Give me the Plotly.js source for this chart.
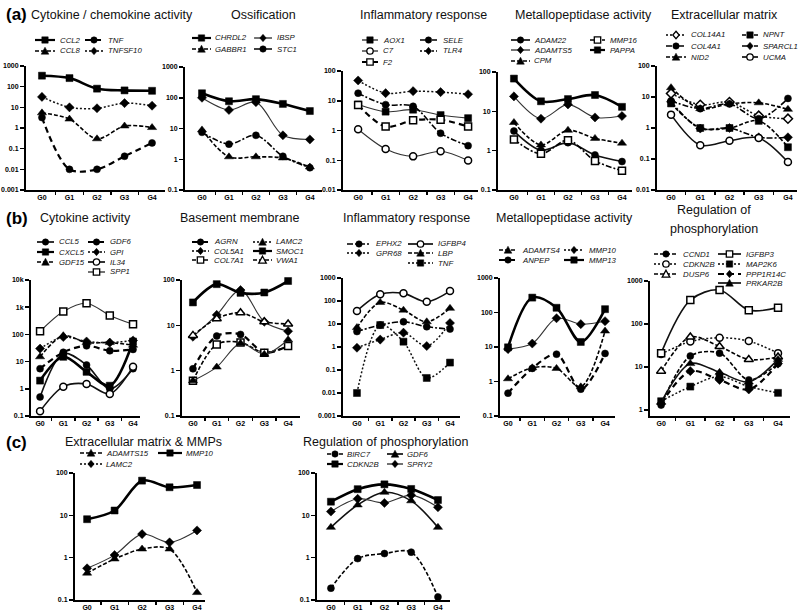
<!DOCTYPE html>
<html><head><meta charset="utf-8">
<script src="https://cdn.plot.ly/plotly-3.0.1.min.js"></script>
<style>html,body{margin:0;padding:0;background:#fff}#chart{width:798px;height:616px}</style>
</head><body><div id="chart"></div>
<script>
// ---------- categories ----------
const stages = ['G0','G1','G2','G3','G4'];

// ---------- tick labels ----------
const ticksA1 = ['0.001','0.01','0.1','1','10','100','1000'];
const ticksA2 = ['0.1','1','10','100','1000'];
const ticksA3 = ['0.01','0.1','1','10','100'];
const ticksA4 = ['0.1','1','10','100'];
const ticksA5 = ['0.01','0.1','1','10','100'];
const ticksB1 = ['0.1','1','10','100','1k','10k'];
const ticksB2 = ['0.1','1','10','100'];
const ticksB3 = ['0.001','0.01','0.1','1','10','100','1000'];
const ticksB4 = ['0.1','1','10','100','1000'];
const ticksB5 = ['1','10','100','1000'];
const ticksC1 = ['0.1','1','10','100'];
const ticksC2 = ['0.1','1','10','100'];

// ---------- (a) Cytokine / chemokine activity ----------
const a1_CCL2    = [340, 260, 80, 66, 63];
const a1_CCL8    = [5.4, 2.7, 0.3, 1.25, 1.05];
const a1_TNF     = [3.2, 0.01, 0.01, 0.043, 0.19];
const a1_TNFSF10 = [32, 10, 9, 16, 12];
// ---------- (a) Ossification ----------
const a2_CHRDL2 = [140, 77, 90, 63, 37];
const a2_GABBR1 = [9, 1.2, 1.2, 1.1, 0.56];
const a2_IBSP   = [100, 40, 72, 6, 4.4];
const a2_STC1   = [7.5, 3.1, 6, 1.25, 0.53];
// ---------- (a) Inflammatory response ----------
const a3_AOX1 = [7.5, 4.3, 5, 3.3, 2.6];
const a3_C7   = [1.1, 0.24, 0.135, 0.2, 0.098];
const a3_F2   = [7.2, 1.35, 2.2, 2.3, 1.35];
const a3_SELE = [18, 7.4, 6.5, 0.81, 0.31];
const a3_TLR4 = [48, 18, 21, 19.5, 16.6];
// ---------- (a) Metallopeptidase activity ----------
const a4_ADAM22  = [3.15, 1.03, 1.6, 0.78, 0.53];
const a4_ADAMTS5 = [24, 6.5, 15, 7, 7.6];
const a4_CPM     = [5.2, 1.4, 3.3, 2.05, 1.55];
const a4_MMP16   = [1.93, 0.83, 1.85, 0.55, 0.31];
const a4_PAPPA   = [68, 18, 20.5, 26, 13];
// ---------- (a) Extracellular matrix ----------
const a5_COL14A1 = [13, 5.6, 6.9, 2.5, 2];
const a5_COL4A1  = [7.5, 4.2, 6, 2, 9];
const a5_NID2    = [20, 4.2, 6, 6.5, 4];
const a5_NPNT    = [6.2, 1.0, 1.0, 1.7, 0.24];
const a5_SPARCL1 = [7, 0.96, 1.0, 0.5, 0.5];
const a5_UCMA    = [2.7, 0.28, 0.39, 0.48, 0.08];
// ---------- (b) Cytokine activity ----------
const b1_CCL5  = [0.5, 20, 7.5, 1.0, 5.5];
const b1_CXCL5 = [2, 15, 4.2, 1.3, 55];
const b1_GDF15 = [15, 90, 50, 50, 40];
const b1_GDF6  = [5.5, 22, 38, 25, 28];
const b1_GPI   = [30, 80, 55, 50, 60];
const b1_IL34  = [0.15, 1.2, 1.5, 0.65, 6.5];
const b1_SPP1  = [130, 700, 1400, 500, 235];
// ---------- (b) Basement membrane ----------
const b2_AGRN   = [1.1, 5.8, 6.3, 2.5, 3.5];
const b2_COL5A1 = [5.6, 17, 60, 12, 7.4];
const b2_COL7A1 = [0.6, 3.8, 4.2, 2.5, 3.5];
const b2_LAMC2  = [0.6, 1.2, 4.0, 2.3, 4.8];
const b2_SMOC1  = [32, 81, 52, 53, 95];
const b2_VWA1   = [6, 14, 19, 12, 10.7];
// ---------- (b) Inflammatory response ----------
const b3_EPHX2  = [4.7, 9, 12.5, 7.6, 6];
const b3_GPR68  = [0.93, 2.1, 4.2, 1.1, 11];
const b3_IGFBP4 = [37, 195, 215, 93, 270];
const b3_LBP    = [7, 87, 40, 12.5, 48];
const b3_TNF    = [0.01, 9, 1.7, 0.045, 0.21];
// ---------- (b) Metallopeptidase activity ----------
const b4_ADAMTS4 = [1.2, 2.5, 2.4, 0.7, 29];
const b4_ANPEP   = [0.46, 2.4, 6.2, 0.6, 6.5];
const b4_MMP10   = [8.7, 12.6, 68, 46, 56];
const b4_MMP13   = [9.8, 270, 137, 14, 125];
// ---------- (b) Regulation of phosphorylation ----------
const b5_CCND1    = [1.3, 18, 21, 5, 12];
const b5_CDKN2B   = [20, 39, 48, 40, 21];
const b5_DUSP6    = [8, 50, 30, 15, 17];
const b5_IGFBP3   = [21, 360, 620, 210, 240];
const b5_MAP2K6   = [1.6, 3.5, 6, 3.5, 2.5];
const b5_PPP1R14C = [1.4, 8, 5, 3, 12];
const b5_PRKAR2B  = [1.5, 12, 7.5, 4.5, 15];
// ---------- (c) Extracellular matrix & MMPs ----------
const c1_ADAMTS15 = [0.43, 0.93, 1.6, 1.6, 0.15];
const c1_LAMC2    = [0.56, 1.15, 3.6, 2.3, 4.4];
const c1_MMP10    = [8.1, 13, 66, 46, 52];
// ---------- (c) Regulation of phosphorylation ----------
const c2_BIRC7  = [0.19, 0.95, 1.25, 1.35, 0.118];
const c2_CDKN2B = [21, 41.5, 54, 42, 23];
const c2_GDF6   = [5.2, 17.6, 35, 22, 5.2];
const c2_SPRY2  = [12.3, 24.6, 19.6, 30, 15.5];

// ---------- styles ----------
const W = 798, H = 616;
const FONT = '"Liberation Sans", Arial, sans-serif';
const LS = {
  thick:  {width: 2.6, dash: 'solid', color: '#000'},
  solid:  {width: 1.6, dash: 'solid', color: '#111'},
  thin:   {width: 1.1, dash: 'solid', color: '#333'},
  dash:   {width: 1.6, dash: '4px,2px', color: '#000'},
  hdash:  {width: 2.2, dash: '6px,4px', color: '#000'},
  dot:    {width: 1.5, dash: '2px,2px', color: '#111'},
  dashdot:{width: 1.6, dash: '6px,2px,2px,2px', color: '#000'}
};
const MK = {sq: 'square', ci: 'circle', tri: 'triangle-up', dia: 'diamond'};

function S(name, y, ls, m, open){ return {name, y, ls, m, open: !!open}; }

const panels = [
  {title:['Cytokine / chemokine activity'], tx:29, ty:15, tanchor:'left', ticks:ticksA1, lo:-3, hi:3,
   box:[26,165,66,190], xr:[-0.58,4.47],
   series:[S('CCL2',a1_CCL2,'thick','sq'),S('CCL8',a1_CCL8,'dash','tri'),S('TNF',a1_TNF,'hdash','ci'),S('TNFSF10',a1_TNFSF10,'dot','dia')],
   leg:{cols:[[35,55,58],[85,103,106]], rows:[40,51], items:[['CCL2','CCL8'],['TNF','TNFSF10']]}},
  {title:['Ossification'], tx:263, ty:15, ticks:ticksA2, lo:-1, hi:3,
   box:[185,322,67,190], xr:[-0.63,4.45],
   series:[S('CHRDL2',a2_CHRDL2,'thick','sq'),S('GABBR1',a2_GABBR1,'dash','tri'),S('IBSP',a2_IBSP,'thin','dia'),S('STC1',a2_STC1,'dashdot','ci')],
   leg:{cols:[[192,211,213],[254,272,275]], rows:[38,49], items:[['CHRDL2','GABBR1'],['IBSP','STC1']]}},
  {title:['Inflammatory response'], tx:423, ty:15, ticks:ticksA3, lo:-2, hi:2,
   box:[343,478,71,190], xr:[-0.55,4.36],
   series:[S('AOX1',a3_AOX1,'thin','sq'),S('C7',a3_C7,'thin','ci',1),S('F2',a3_F2,'hdash','sq',1),S('SELE',a3_SELE,'dashdot','ci'),S('TLR4',a3_TLR4,'dot','dia')],
   leg:{cols:[[362,378,381],[420,437,441]], rows:[40,51,62], items:[['AOX1','C7','F2'],['SELE','TLR4']]}},
  {title:['Metallopeptidase activity'], tx:583, ty:15, ticks:ticksA4, lo:-1, hi:2,
   box:[498,632,72,190], xr:[-0.59,4.37],
   series:[S('ADAM22',a4_ADAM22,'solid','ci'),S('ADAMTS5',a4_ADAMTS5,'thin','dia'),S('CPM',a4_CPM,'dash','tri'),S('MMP16',a4_MMP16,'dashdot','sq',1),S('PAPPA',a4_PAPPA,'thick','sq')],
   leg:{cols:[[511,530,532],[590,605,608]], rows:[40,50,61], items:[['ADAM22','ADAMTS5','CPM'],['MMP16','PAPPA']]}},
  {title:['Extracellular matrix'], tx:724, ty:15, ticks:ticksA5, lo:-2, hi:2,
   box:[657,797,66,190], xr:[-0.48,4.31],
   series:[S('COL14A1',a5_COL14A1,'dot','dia',1),S('COL4A1',a5_COL4A1,'dashdot','ci'),S('NID2',a5_NID2,'dash','tri'),S('NPNT',a5_NPNT,'dash','sq'),S('SPARCL1',a5_SPARCL1,'dashdot','dia'),S('UCMA',a5_UCMA,'solid','ci',1)],
   leg:{cols:[[666,686,689],[742,758,761]], rows:[35,46,57], items:[['COL14A1','COL4A1','NID2'],['NPNT','SPARCL1','UCMA']]}},
  {title:['Cytokine activity'], tx:85, ty:218, ticks:ticksB1, lo:-1, hi:4,
   box:[31,140,280,416], xr:[-0.39,4.3],
   series:[S('CCL5',b1_CCL5,'solid','ci'),S('CXCL5',b1_CXCL5,'thick','sq'),S('GDF15',b1_GDF15,'dash','tri'),S('GDF6',b1_GDF6,'hdash','ci'),S('GPI',b1_GPI,'dot','dia'),S('IL34',b1_IL34,'solid','ci',1),S('SPP1',b1_SPP1,'thin','sq',1)],
   leg:{cols:[[37,54,57],[88,105,108]], rows:[242,252,262,272], items:[['CCL5','CXCL5','GDF15'],['GDF6','GPI','IL34','SPP1']]}},
  {title:['Basement membrane'], tx:240, ty:218, ticks:ticksB2, lo:-1, hi:2,
   box:[182,300,280,416], xr:[-0.46,4.5],
   series:[S('AGRN',b2_AGRN,'hdash','ci'),S('COL5A1',b2_COL5A1,'thin','dia'),S('COL7A1',b2_COL7A1,'dash','sq',1),S('LAMC2',b2_LAMC2,'thin','tri'),S('SMOC1',b2_SMOC1,'thick','sq'),S('VWA1',b2_VWA1,'dash','tri',1)],
   leg:{cols:[[192,209,212],[253,272,274]], rows:[242,251,260], items:[['AGRN','COL5A1','COL7A1'],['LAMC2','SMOC1','VWA1']]},
   legStyle:{COL5A1:'dot', LAMC2:'dot'}},
  {title:['Inflammatory response'], tx:406, ty:218, ticks:ticksB3, lo:-3, hi:3,
   box:[343,460,278,416], xr:[-0.6,4.43],
   series:[S('EPHX2',b3_EPHX2,'dashdot','ci'),S('GPR68',b3_GPR68,'dot','dia'),S('IGFBP4',b3_IGFBP4,'solid','ci',1),S('LBP',b3_LBP,'dash','tri'),S('TNF',b3_TNF,'dot','sq')],
   leg:{cols:[[347,371,374],[408,433,436]], rows:[244,253,263], items:[['EPHX2','GPR68'],['IGFBP4','LBP','TNF']]}},
  {title:['Metallopeptidase activity'], tx:564, ty:218, ticks:ticksB4, lo:-1, hi:3,
   box:[500,615,278,416], xr:[-0.33,4.41],
   series:[S('ADAMTS4',b4_ADAMTS4,'dash','tri'),S('ANPEP',b4_ANPEP,'hdash','ci'),S('MMP10',b4_MMP10,'thin','dia'),S('MMP13',b4_MMP13,'thick','sq')],
   leg:{cols:[[499,517,520],[564,584,587]], rows:[250,260], items:[['ADAMTS4','ANPEP'],['MMP10','MMP13']]},
   legStyle:{MMP10:'dot'}},
  {title:['Regulation of','phosphorylation'], tx:714, ty:210, ticks:ticksB5, lo:-0.14, hi:3,
   box:[650,790,281,416], xr:[-0.38,4.41],
   series:[S('CCND1',b5_CCND1,'dash','ci'),S('CDKN2B',b5_CDKN2B,'dot','ci',1),S('DUSP6',b5_DUSP6,'dash','tri',1),S('IGFBP3',b5_IGFBP3,'solid','sq',1),S('MAP2K6',b5_MAP2K6,'dot','sq'),S('PPP1R14C',b5_PPP1R14C,'hdash','dia'),S('PRKAR2B',b5_PRKAR2B,'solid','tri')],
   leg:{cols:[[654,678,681],[718,741,744]], rows:[254,264,274,283], items:[['CCND1','CDKN2B','DUSP6'],['IGFBP3','MAP2K6','PPP1R14C','PRKAR2B']]}},
  {title:['Extracellular matrix & MMPs'], tx:143, ty:442, ticks:ticksC1, lo:-1, hi:2,
   box:[75,205,473,600], xr:[-0.44,4.29],
   series:[S('ADAMTS15',c1_ADAMTS15,'dash','tri'),S('LAMC2',c1_LAMC2,'thin','dia'),S('MMP10',c1_MMP10,'thick','sq')],
   leg:{cols:[[80,102,104],[158,182,184]], rows:[453,464], items:[['ADAMTS15','LAMC2'],['MMP10']]},
   legStyle:{LAMC2:'dot'}},
  {title:['Regulation of phosphorylation'], tx:385, ty:442, ticks:ticksC2, lo:-1, hi:2,
   box:[317,450,473,600], xr:[-0.52,4.45],
   series:[S('BIRC7',c2_BIRC7,'dash','ci'),S('CDKN2B',c2_CDKN2B,'thick','sq'),S('GDF6',c2_GDF6,'solid','tri'),S('SPRY2',c2_SPRY2,'thin','dia')],
   leg:{cols:[[327,343,345],[387,403,405]], rows:[454,464], items:[['BIRC7','CDKN2B'],['GDF6','SPRY2']]}}
];

const panelLetters = [{t:'(a)', y:15},{t:'(b)', y:218},{t:'(c)', y:443}];

const X = v => v / W;
const Y = v => 1 - v / H;
const xIdx = stages.map((_, i) => i);

const traces = [], shapes = [], annotations = [];
const layout = {
  width: W, height: H, margin: {l:0, r:0, t:0, b:0},
  paper_bgcolor: '#fff', plot_bgcolor: 'rgba(0,0,0,0)',
  showlegend: false, font: {family: FONT, color: '#000'}
};

function markerStyle(s){
  return {symbol: MK[s.m], size: s.m === 'tri' ? 8 : 7,
          color: s.open ? '#fff' : '#000',
          line: {color: '#000', width: s.open ? 1.5 : 0.5}};
}

function legendMarker(cx, cy, s){
  const r = 3.2;
  const fill = s.open ? '#fff' : '#000';
  const ln = {color:'#000', width: s.open ? 1.3 : 0.5};
  if (s.m === 'sq') shapes.push({type:'rect', xref:'paper', yref:'paper', x0:X(cx-r), x1:X(cx+r), y0:Y(cy+r), y1:Y(cy-r), fillcolor:fill, line:ln, layer:'above'});
  else if (s.m === 'ci') shapes.push({type:'circle', xref:'paper', yref:'paper', x0:X(cx-r), x1:X(cx+r), y0:Y(cy+r), y1:Y(cy-r), fillcolor:fill, line:ln, layer:'above'});
  else if (s.m === 'tri') shapes.push({type:'path', xref:'paper', yref:'paper', path:`M${X(cx)},${Y(cy-r-0.6)} L${X(cx+r+0.6)},${Y(cy+r)} L${X(cx-r-0.6)},${Y(cy+r)} Z`, fillcolor:fill, line:ln, layer:'above'});
  else shapes.push({type:'path', xref:'paper', yref:'paper', path:`M${X(cx)},${Y(cy-r-0.5)} L${X(cx+r)},${Y(cy)} L${X(cx)},${Y(cy+r+0.5)} L${X(cx-r)},${Y(cy)} Z`, fillcolor:fill, line:ln, layer:'above'});
}

panels.forEach((p, k) => {
  const n = k + 1;
  const xa = n === 1 ? 'xaxis' : 'xaxis' + n;
  const ya = n === 1 ? 'yaxis' : 'yaxis' + n;
  const xr = n === 1 ? 'x' : 'x' + n;
  const yr = n === 1 ? 'y' : 'y' + n;
  const [bx0, bx1, byt, byb] = p.box;
  const tickvals = p.ticks.map((_, i) => Math.pow(10, Math.ceil(p.lo - 1e-9) + i));
  layout[xa] = {
    domain: [X(bx0), X(bx1)], anchor: yr, range: p.xr, type: 'linear',
    tickvals: xIdx, ticktext: stages, ticks: '', showgrid: false, zeroline: false,
    showline: true, linecolor: '#000', linewidth: 2,
    tickfont: {family: FONT, size: 7, color: '#000', weight: 'bold'},
    minor: {tickmode: 'array', tickvals: [0.5, 1.5, 2.5, 3.5, 4.5].filter(v => v < p.xr[1]), ticks: 'outside', ticklen: 3, tickwidth: 1.5, tickcolor: '#000', showgrid: false},
    fixedrange: true
  };
  layout[ya] = {
    domain: [Y(byb), Y(byt)], anchor: xr, type: 'log', range: [p.lo, p.hi],
    tickvals: tickvals, ticktext: p.ticks, ticks: 'outside', ticklen: 4, tickwidth: 1.5, tickcolor: '#000',
    showgrid: false, zeroline: false, showline: true, linecolor: '#000', linewidth: 2,
    tickfont: {family: FONT, size: 7, color: '#000', weight: 'bold'}, fixedrange: true
  };
  p.series.forEach(s => {
    const st = LS[s.ls];
    traces.push({
      type: 'scatter', mode: 'lines+markers', name: s.name, x: xIdx, y: s.y,
      xaxis: xr, yaxis: yr, cliponaxis: false,
      line: {color: st.color, width: st.width, dash: st.dash, shape: 'spline', smoothing: 0.9},
      marker: markerStyle(s), hoverinfo: 'name+y'
    });
  });
  p.title.forEach((t, i) => {
    annotations.push({xref:'paper', yref:'paper', x: X(p.tx), y: Y(p.ty + i * 19), text: t, showarrow: false,
      xanchor: p.tanchor || 'center', yanchor: 'middle', font: {family: FONT, size: 12.5, color: '#111'}});
  });
  const byName = {};
  p.series.forEach(s => byName[s.name] = s);
  p.leg.items.forEach((col, ci) => {
    const [sx0, sx1, tx] = p.leg.cols[ci];
    col.forEach((nm, ri) => {
      const s = byName[nm];
      const yy = p.leg.rows[ri];
      const lsKey = (p.legStyle && p.legStyle[nm]) || s.ls;
      const st = LS[lsKey];
      shapes.push({type:'line', xref:'paper', yref:'paper', x0:X(sx0), x1:X(sx1), y0:Y(yy), y1:Y(yy),
        line:{color:'#000', width: Math.min(st.width, 2.2), dash: st.dash}, layer:'above'});
      legendMarker((sx0 + sx1) / 2, yy, s);
      annotations.push({xref:'paper', yref:'paper', x: X(tx), y: Y(yy), text: nm, showarrow: false,
        xanchor: 'left', yanchor: 'middle', font: {family: FONT, size: 7.8, color: '#111', style: 'italic'}});
    });
  });
});

panelLetters.forEach(l => {
  annotations.push({xref:'paper', yref:'paper', x: X(4), y: Y(l.y), text: l.t, showarrow: false,
    xanchor: 'left', yanchor: 'middle', font: {family: FONT, size: 17, color: '#000', weight: 'bold'}});
});

layout.shapes = shapes;
layout.annotations = annotations;
Plotly.newPlot('chart', traces, layout, {staticPlot: true, displayModeBar: false});
</script></body></html>
